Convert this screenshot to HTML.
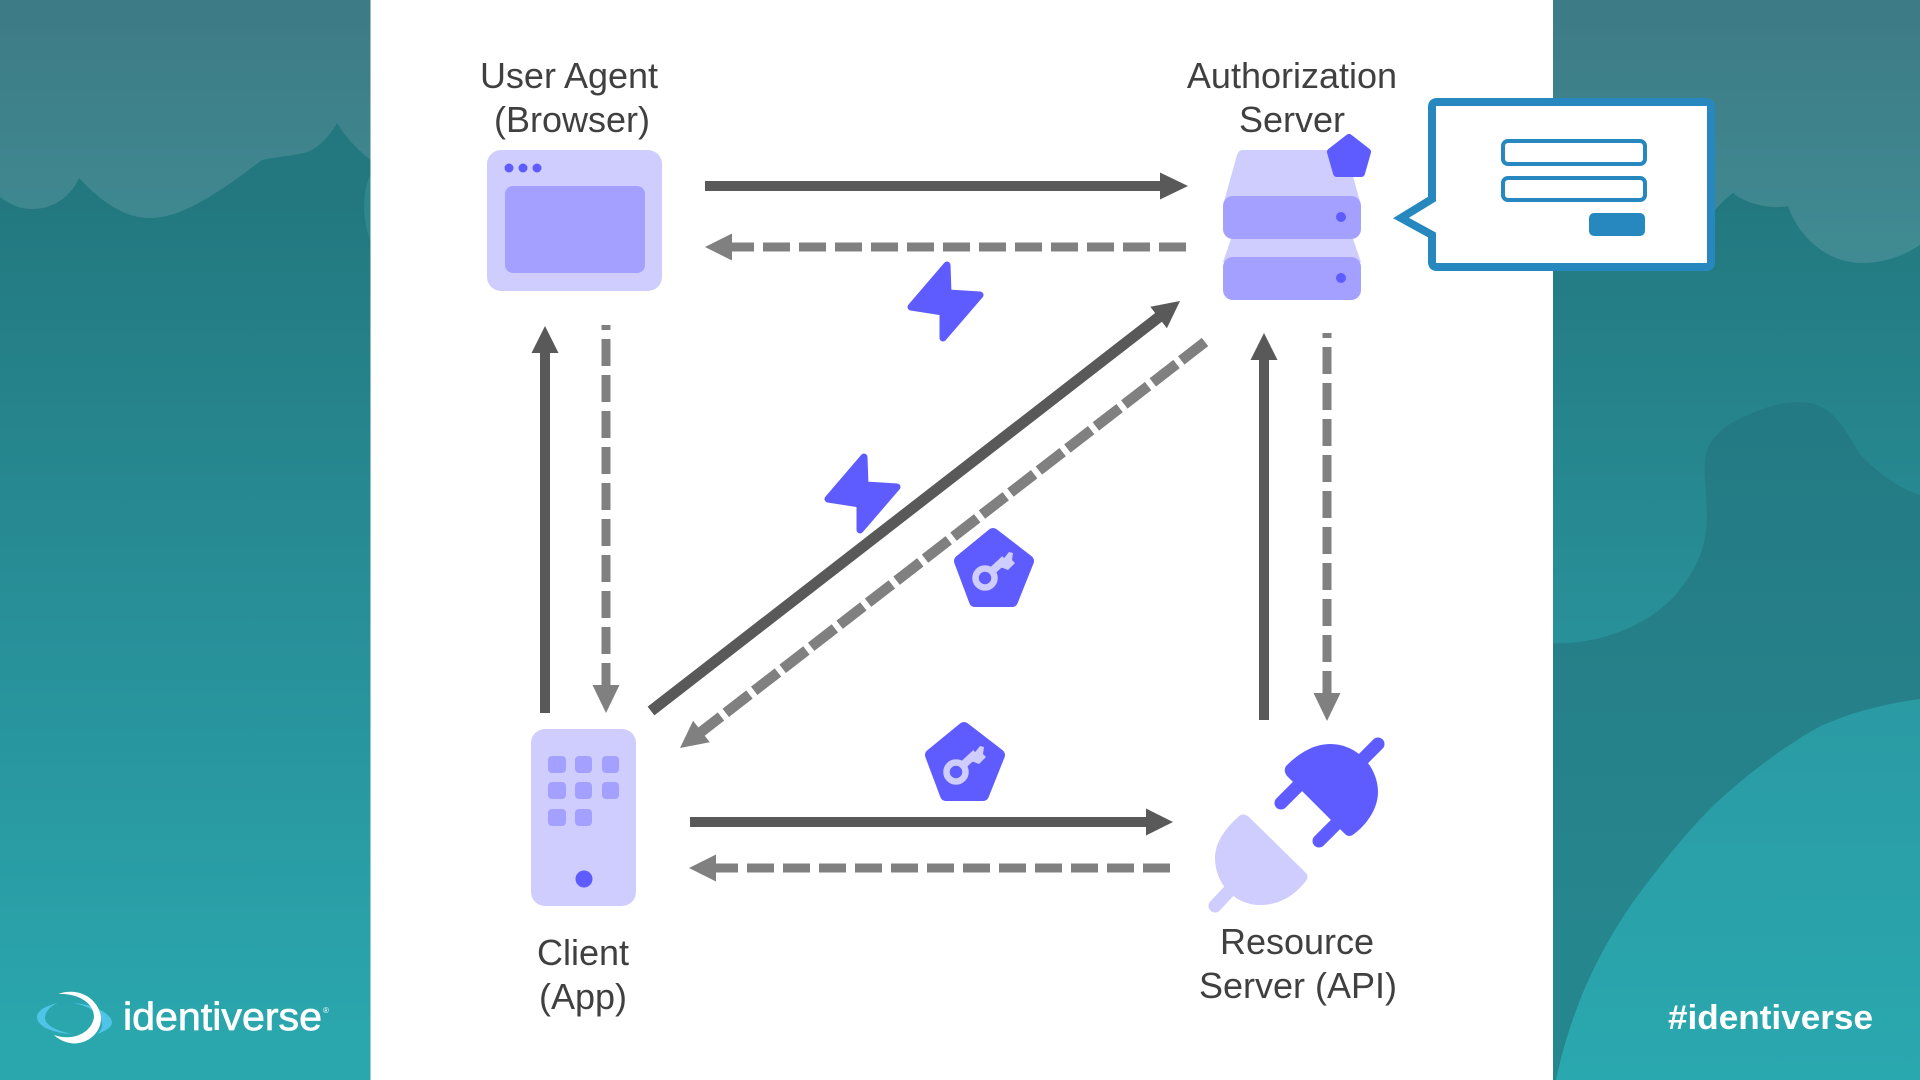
<!DOCTYPE html>
<html lang="en">
<head>
<meta charset="utf-8">
<title>OAuth diagram</title>
<style>
html,body{margin:0;padding:0;background:#fff;width:1920px;height:1080px;overflow:hidden}
svg{display:block}
text{font-family:"Liberation Sans",Arial,sans-serif}
.lbl{font-size:36px;fill:#404040;text-anchor:middle}
</style>
</head>
<body>
<svg width="1920" height="1080" viewBox="0 0 1920 1080" xmlns="http://www.w3.org/2000/svg">
<defs>
<linearGradient id="base" gradientUnits="userSpaceOnUse" x1="0" y1="200" x2="0" y2="1030">
<stop offset="0" stop-color="#23787f"/><stop offset="0.5" stop-color="#288f98"/><stop offset="1" stop-color="#2aa6ad"/>
</linearGradient>
<linearGradient id="cloud" gradientUnits="userSpaceOnUse" x1="0" y1="0" x2="0" y2="260">
<stop offset="0" stop-color="#3d7b86"/><stop offset="1" stop-color="#408b93"/>
</linearGradient>
<linearGradient id="dark" gradientUnits="userSpaceOnUse" x1="0" y1="420" x2="0" y2="950">
<stop offset="0" stop-color="#247a84"/><stop offset="1" stop-color="#26868e"/>
</linearGradient>
<linearGradient id="circ" gradientUnits="userSpaceOnUse" x1="0" y1="700" x2="0" y2="1080">
<stop offset="0" stop-color="#2a9aa3"/><stop offset="1" stop-color="#2aa8af"/>
</linearGradient>
</defs>

<!-- side panels -->
<rect x="0" y="0" width="370.5" height="1080" fill="url(#base)"/>
<rect x="1553" y="0" width="367" height="1080" fill="url(#base)"/>

<!-- left cloud -->
<path d="M0 197 C12 206 22 209 32 209 C52 209 70 198 79 178 C95 195 120 218 150 218 C180 218 213 197 262 160 C280 156 295 156 307 152 C320 147 330 135 337 123 C346 138 358 150 370.5 160 V0 H0Z" fill="url(#cloud)"/>
<path d="M370.5 175 C362 190 362 222 370.5 240Z" fill="#2f868e"/>

<!-- right shapes -->
<path d="M1553 0 H1920 V245 C1905 255 1885 263 1863 263 C1825 263 1798 235 1788 206 C1770 210 1745 203 1733 193 C1727 197 1721 203 1715 210 L1553 210Z" fill="url(#cloud)"/>
<path d="M1553 643 C1600 645 1650 625 1677 593 C1695 570 1703 555 1706 530 C1709 505 1703 480 1705 459 C1708 435 1730 422 1750 414 C1770 405 1790 400 1810 403 C1835 408 1845 430 1860 454 C1875 470 1895 487 1920 495 V1080 H1553Z" fill="url(#dark)"/>
<path d="M1556 1080 C1572 1005 1600 950 1633 902 C1660 865 1690 828 1717 802 C1750 772 1785 746 1817 728 C1850 712 1885 704 1920 699 V1080Z" fill="url(#circ)"/>

<!-- logo -->
<path d="M58 1003 C44 1006 36 1012 37 1018 C38 1028 58 1034 73 1034 C60 1032 45 1026 45 1018 C45 1012 50 1006 58 1003Z" fill="#4fc3e8"/>
<path d="M73 1003 C92 1004 111 1013 112 1022 C112 1027 106 1031 97 1034 C102 1030 104 1024 100 1018 C95 1010 85 1005 73 1003Z" fill="#4fc3e8"/>
<path d="M58 994 C80 986 99 1000 101 1017 C102 1034 85 1046 70 1043 C64 1042 58 1039 54 1035 C74 1042 92 1032 94 1017 C94 1003 78 993 58 994Z" fill="#ffffff"/>
<text x="123" y="1030" font-size="39" fill="#ffffff" stroke="#ffffff" stroke-width="0.7" textLength="199" lengthAdjust="spacingAndGlyphs">identiverse</text>
<text x="323" y="1013" font-size="8" fill="#ffffff">®</text>
<text x="1668" y="1029" font-size="34" font-weight="bold" fill="#ffffff" textLength="205" lengthAdjust="spacingAndGlyphs">#identiverse</text>

<!-- labels -->
<text class="lbl" x="569" y="88">User Agent</text>
<text class="lbl" x="572" y="132">(Browser)</text>
<text class="lbl" x="1292" y="88">Authorization</text>
<text class="lbl" x="1292" y="132">Server</text>
<text class="lbl" x="583" y="965">Client</text>
<text class="lbl" x="583" y="1009">(App)</text>
<text class="lbl" x="1297" y="954">Resource</text>
<text class="lbl" x="1298" y="998">Server (API)</text>

<!-- browser icon -->
<rect x="487" y="150" width="175" height="141" rx="14" fill="#cfcdfe"/>
<rect x="505" y="186" width="140" height="87" rx="8" fill="#a3a0ff"/>
<circle cx="509" cy="168" r="4.5" fill="#5f5cff"/>
<circle cx="523" cy="168" r="4.5" fill="#5f5cff"/>
<circle cx="537" cy="168" r="4.5" fill="#5f5cff"/>

<!-- server icon -->
<path d="M1242 150 H1342 Q1345 150 1347 155 L1361 205 H1223 L1237 155 Q1239 150 1242 150Z" fill="#cfcdfe"/>
<path d="M1231 239 H1353 L1361 262 H1223Z" fill="#cfcdfe"/>
<rect x="1223" y="196" width="138" height="43" rx="10" fill="#a3a0ff"/>
<rect x="1223" y="257" width="138" height="43" rx="10" fill="#a3a0ff"/>
<circle cx="1341" cy="217" r="5" fill="#5f5cff"/>
<circle cx="1341" cy="278" r="5" fill="#5f5cff"/>
<polygon points="1349,138 1367,152 1361,173 1337,173 1331,152" fill="#5f5cff" stroke="#5f5cff" stroke-width="8" stroke-linejoin="round"/>

<!-- callout -->
<path d="M1437 102 H1706 Q1711 102 1711 107 V262 Q1711 267 1706 267 H1437 Q1432 267 1432 262 V235 L1401 218 L1432 199 V107 Q1432 102 1437 102Z" fill="#ffffff" stroke="#2688bf" stroke-width="8" stroke-linejoin="miter"/>
<rect x="1503" y="141" width="142" height="23" rx="5" fill="#fff" stroke="#2688bf" stroke-width="4"/>
<rect x="1503" y="178" width="142" height="22" rx="5" fill="#fff" stroke="#2688bf" stroke-width="4"/>
<rect x="1589" y="213" width="56" height="23" rx="5" fill="#2688bf"/>

<!-- phone -->
<rect x="531" y="729" width="105" height="177" rx="14" fill="#cfcdfe"/>
<g fill="#a3a0ff">
<rect x="548" y="756" width="18" height="17" rx="4"/><rect x="575" y="756" width="17" height="17" rx="4"/><rect x="602" y="756" width="17" height="17" rx="4"/>
<rect x="548" y="782" width="18" height="17" rx="4"/><rect x="575" y="782" width="17" height="17" rx="4"/><rect x="602" y="782" width="17" height="17" rx="4"/>
<rect x="548" y="809" width="18" height="17" rx="4"/><rect x="575" y="809" width="17" height="17" rx="4"/>
</g>
<circle cx="584" cy="879" r="8.5" fill="#5f5cff"/>

<!-- plug -->
<g stroke="#5f5cff" stroke-width="13" stroke-linecap="round" fill="none">
<line x1="1362" y1="760" x2="1378" y2="744"/>
<line x1="1297" y1="787" x2="1281" y2="803"/>
<line x1="1335" y1="825" x2="1319" y2="841"/>
</g>
<path d="M1286 766 C1300 752 1315 744 1330 744 C1358 744 1378 768 1378 792 C1378 810 1365 826 1354 834 Q1349 838 1345 834 L1287 776 Q1283 771 1286 766Z" fill="#5f5cff"/>
<line x1="1230" y1="890" x2="1215" y2="906" stroke="#cfcdfe" stroke-width="13" stroke-linecap="round"/>
<path d="M1238 817 Q1243 812 1249 817 L1305 872 Q1310 877 1305 882 C1293 897 1278 905 1260 905 C1235 905 1215 884 1215 858 C1215 842 1226 828 1238 817Z" fill="#cfcdfe"/>

<!-- arrows solid -->
<g stroke="#595959" stroke-width="10" fill="none">
<line x1="705" y1="186" x2="1162" y2="186"/>
<line x1="690" y1="822" x2="1147" y2="822"/>
<line x1="545" y1="713" x2="545" y2="352"/>
<line x1="1264" y1="720" x2="1264" y2="359"/>
<line x1="651" y1="711" x2="1159" y2="317" stroke-width="11"/>
</g>
<g fill="#595959">
<polygon points="1188,186 1160,172.5 1160,199.5"/>
<polygon points="1173,822 1146,808.5 1146,835.5"/>
<polygon points="545,326 531.5,353 558.5,353"/>
<polygon points="1264,333 1250.5,360 1277.5,360"/>
<polygon points="1180,301 1150.3,306.8 1166.9,328.2"/>
</g>

<!-- arrows dashed -->
<g stroke="#808080" stroke-width="9" fill="none" stroke-dasharray="27 9">
<line x1="1186" y1="247" x2="731" y2="247"/>
<line x1="1170" y1="868" x2="715" y2="868"/>
<line x1="606" y1="325" x2="606" y2="686" stroke-dashoffset="22"/>
<line x1="1327" y1="333" x2="1327" y2="694" stroke-dashoffset="22"/>
<line x1="1205" y1="342" x2="701" y2="732" stroke-width="10.5" stroke-dasharray="30 6"/>
</g>
<g fill="#808080">
<polygon points="705,247 732,233.5 732,260.5"/>
<polygon points="689,868 716,854.5 716,881.5"/>
<polygon points="606,713 592.5,685 619.5,685"/>
<polygon points="1327,721 1313.5,693 1340.5,693"/>
<polygon points="680,748 709.7,742.2 693.1,720.8"/>
</g>

<!-- bolts -->
<polygon points="864,457 865,485 897,487 860,530 860,504 828,499" fill="#5f5cff" stroke="#5f5cff" stroke-width="7" stroke-linejoin="round"/>
<polygon transform="translate(83,-192)" points="864,457 865,485 897,487 860,530 860,504 828,499" fill="#5f5cff" stroke="#5f5cff" stroke-width="7" stroke-linejoin="round"/>

<!-- keys -->
<g>
<polygon points="993,534 1028,561 1012,601 975,601 960,561" fill="#5f5cff" stroke="#5f5cff" stroke-width="12" stroke-linejoin="round"/>
<circle cx="985" cy="578" r="9.5" fill="none" stroke="#cfcdfe" stroke-width="6.5"/>
<path d="M991 572 L1005 559" stroke="#cfcdfe" stroke-width="8" fill="none"/>
<polygon points="997,567 1009,552 1013,553 1012,560 1015,563 1008,570 1003,568" fill="#cfcdfe"/>
</g>
<g transform="translate(-29,194)">
<polygon points="993,534 1028,561 1012,601 975,601 960,561" fill="#5f5cff" stroke="#5f5cff" stroke-width="12" stroke-linejoin="round"/>
<circle cx="985" cy="578" r="9.5" fill="none" stroke="#cfcdfe" stroke-width="6.5"/>
<path d="M991 572 L1005 559" stroke="#cfcdfe" stroke-width="8" fill="none"/>
<polygon points="997,567 1009,552 1013,553 1012,560 1015,563 1008,570 1003,568" fill="#cfcdfe"/>
</g>
</svg>
</body>
</html>
